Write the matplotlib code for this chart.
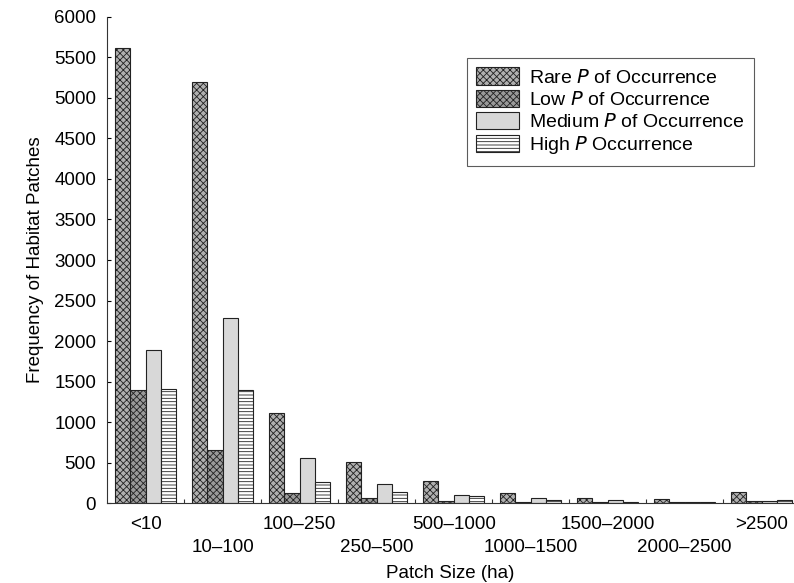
import matplotlib
matplotlib.use('Agg')
import matplotlib.pyplot as plt
import numpy as np

plt.rcParams['font.family'] = ['Liberation Sans', 'DejaVu Sans']
plt.rcParams['hatch.linewidth'] = 0.6

# patch size classes and frequencies
classes = ['<10', '10–100', '100–250', '250–500', '500–1000',
           '1000–1500', '1500–2000', '2000–2500', '>2500']
rare = [5620, 5200, 1110, 510, 275, 130, 65, 50, 135]
low = [1395, 650, 120, 60, 30, 15, 10, 8, 22]
medium = [1885, 2290, 555, 235, 100, 58, 35, 18, 25]
high = [1405, 1390, 255, 135, 82, 42, 20, 15, 42]

series = [
    ('Rare $\\it{P}$ of Occurrence', rare, '#b0b0b0', 'xxxxx'),
    ('Low $\\it{P}$ of Occurrence', low, '#9a9a9a', 'xxxxx'),
    ('Medium $\\it{P}$ of Occurrence', medium, '#d8d8d8', None),
    ('High $\\it{P}$ Occurrence', high, '#ffffff', '-----'),
]

fig = plt.figure(figsize=(7.94, 5.83), dpi=100)
ax = fig.add_axes([0.135, 0.137, 0.865, 0.834])

x = np.arange(len(classes))
w = 0.2
for i, (name, vals, col, hat) in enumerate(series):
    ax.bar(x - 0.3 + i * w, vals, w, color=col, edgecolor='#222222',
           linewidth=0.8, hatch=hat, label=name)

ax.set_xlim(-0.5, 8.42)
ax.set_ylim(0, 6000)
ax.set_yticks(np.arange(0, 6001, 500))
ax.tick_params(axis='y', direction='in', length=3, labelsize=13.5, pad=8)

# staggered class labels: even ones on the first row, odd ones below
ax.set_xticks(x[::2])
ax.set_xticklabels(classes[::2], fontsize=13.5)
ax.set_xticks(x[1::2], minor=True)
ax.set_xticklabels(classes[1::2], minor=True, fontsize=13.5)
ax.tick_params(axis='x', which='major', length=0, pad=9)
ax.tick_params(axis='x', which='minor', length=0, pad=26)

# small inward ticks between the groups
sec = ax.secondary_xaxis('bottom')
sec.set_xticks(x[:-1] + 0.5)
sec.set_xticklabels([])
sec.tick_params(direction='in', length=3, color='#333333')
sec.spines['bottom'].set_visible(False)

for s in ['top', 'right']:
    ax.spines[s].set_visible(False)
ax.spines['left'].set_color('#333333')
ax.spines['bottom'].set_color('#333333')

ax.set_xlabel('Patch Size (ha)', fontsize=13.5, labelpad=6)
ax.set_ylabel('Frequency of Habitat Patches', fontsize=13.5, labelpad=7)

leg = ax.legend(loc='upper right', bbox_to_anchor=(0.942, 0.916),
                borderaxespad=0, fontsize=14, fancybox=False,
                edgecolor='#333333', handlelength=2.2, handleheight=1.0,
                labelspacing=0.15, handletextpad=0.5, borderpad=0.5)
leg.get_frame().set_linewidth(0.8)

fig.savefig('out.png', dpi=100)
